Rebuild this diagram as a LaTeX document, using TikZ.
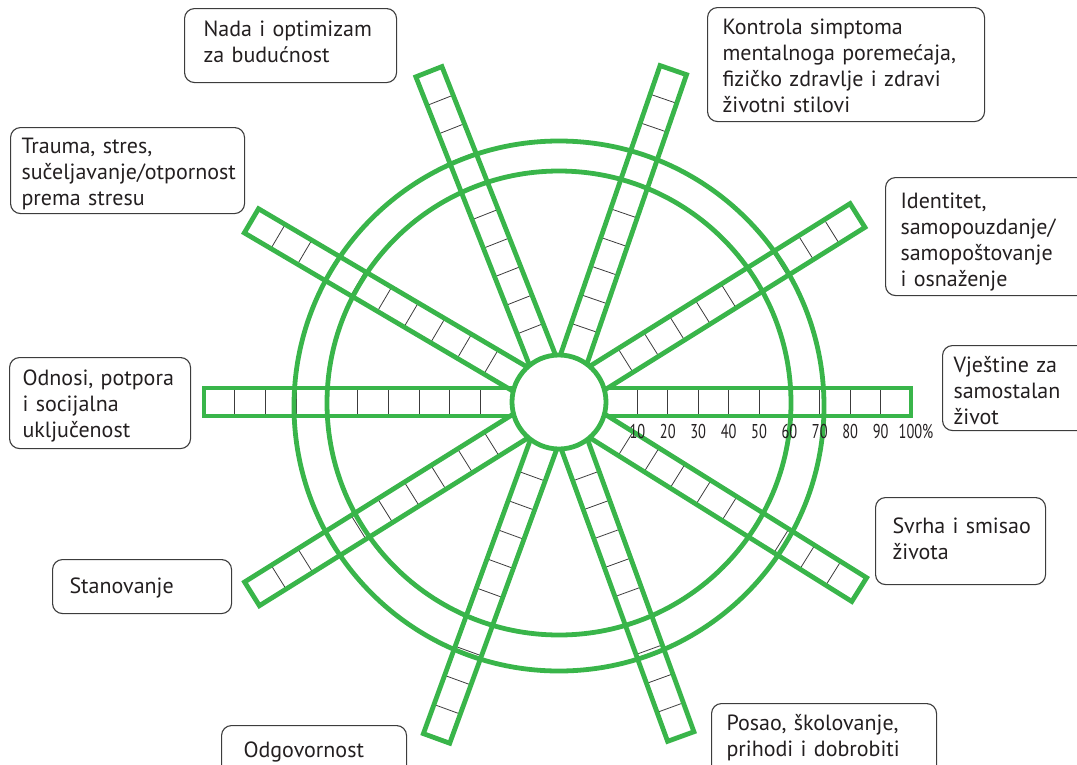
\documentclass[tikz,border=0pt]{standalone}
\usepackage{fontspec}
\newfontfamily\boxfont{PT Sans}
\newfontfamily\numfont[FakeStretch=0.72]{PT Sans}
\definecolor{wheelgreen}{RGB}{57,181,74}
\definecolor{boxline}{RGB}{60,60,60}
\definecolor{txt}{RGB}{35,31,32}

\begin{document}
\begin{tikzpicture}
  [x=1pt,y=-1pt,every node/.style={text=txt}]
  \tikzstyle{lbl} = [draw=boxline,line width=1.1pt,rounded corners=10pt,anchor=north west,align=left,inner ysep=0pt,font=\boxfont\fontsize{22}{26}\selectfont]
  \tikzstyle{spoke} = [draw=wheelgreen,line width=4.8pt]
  \tikzstyle{cellline} = [draw=boxline,line width=0.8pt]
  \tikzstyle{pct} = [anchor=base,inner sep=0pt,font=\numfont\fontsize{20}{20}\selectfont]
  \useasboundingbox (0,0) rectangle (1077,764);
  \clip (0,0) rectangle (1077,764);
  \coordinate (hub) at (559,402);
  % spokes with ten cells each
  \foreach \ang/\len in {0/352,32/352,71/351,111.5/355,149.5/357,180/355,212/362,250/358,290/356,328/354}
  {
    \begin{scope}[shift={(hub)},rotate=\ang]
      \foreach \k in {1,...,9}
        \draw[cellline] ({48+(\len-48)*\k/10},-14) -- ({48+(\len-48)*\k/10},14);
      \draw[spoke] (0,-14) rectangle (\len,14);
    \end{scope}
  }
  % rings and hub
  \draw[spoke] (559,406) circle [radius=265];
  \draw[spoke] (559,403) circle [radius=232];
  \draw[spoke,fill=white] (hub) circle [radius=47];
  % scale
  \foreach \k/\v in {1/10,2/20,3/30,4/40,5/50,6/60,7/70,8/80,9/90}
    \node[pct] (p\k) at ({607+30.4*\k},438) {\v};
  \node[pct] (p10) at (916,438) {100\%};
  % labels
  \node[lbl,text width=174pt,inner xsep=19pt,text height=28pt,text depth=46pt] (nada) at (184,8) {Nada i optimizam\\za budućnost};
  \node[lbl,text width=212pt,inner xsep=11pt,text height=26pt,text depth=60pt] (trauma) at (10,127) {Trauma, stres,\\sučeljavanje/otpornost\\prema stresu};
  \node[lbl,text width=247pt,inner xsep=15pt,text height=27pt,text depth=87pt] (kontrola) at (707,7) {Kontrola simptoma\\mentalnoga poremećaja,\\fizičko zdravlje i zdravi\\životni stilovi};
  \node[lbl,text width=200pt,inner xsep=15pt,text height=31pt,text depth=87pt] (identitet) at (885,177) {Identitet,\\samopouzdanje/\\samopoštovanje\\i osnaženje};
  \node[lbl,text width=138pt,inner xsep=11pt,text height=27pt,text depth=58pt] (vjestine) at (942,345) {Vještine za\\samostalan\\život};
  \node[lbl,text width=155pt,inner xsep=13pt,text height=28pt,text depth=63pt] (odnosi) at (9,357) {Odnosi, potpora\\i socijalna\\uključenost};
  \node[lbl,text width=145pt,inner xsep=17pt,text height=34pt,text depth=20pt] (stanovanje) at (52,559) {Stanovanje};
  \node[lbl,text width=141pt,inner xsep=22pt,text height=32pt,text depth=60pt] (odgovornost) at (221,725) {Odgovornost};
  \node[lbl,text width=136pt,inner xsep=17pt,text height=36pt,text depth=51pt] (svrha) at (875,497) {\mbox{Svrha i smisao}\\života};
  \node[lbl,text width=195pt,inner xsep=15pt,text height=27pt,text depth=80pt] (posao) at (711,703) {Posao, školovanje,\\prihodi i dobrobiti};
\end{tikzpicture}
\end{document}
